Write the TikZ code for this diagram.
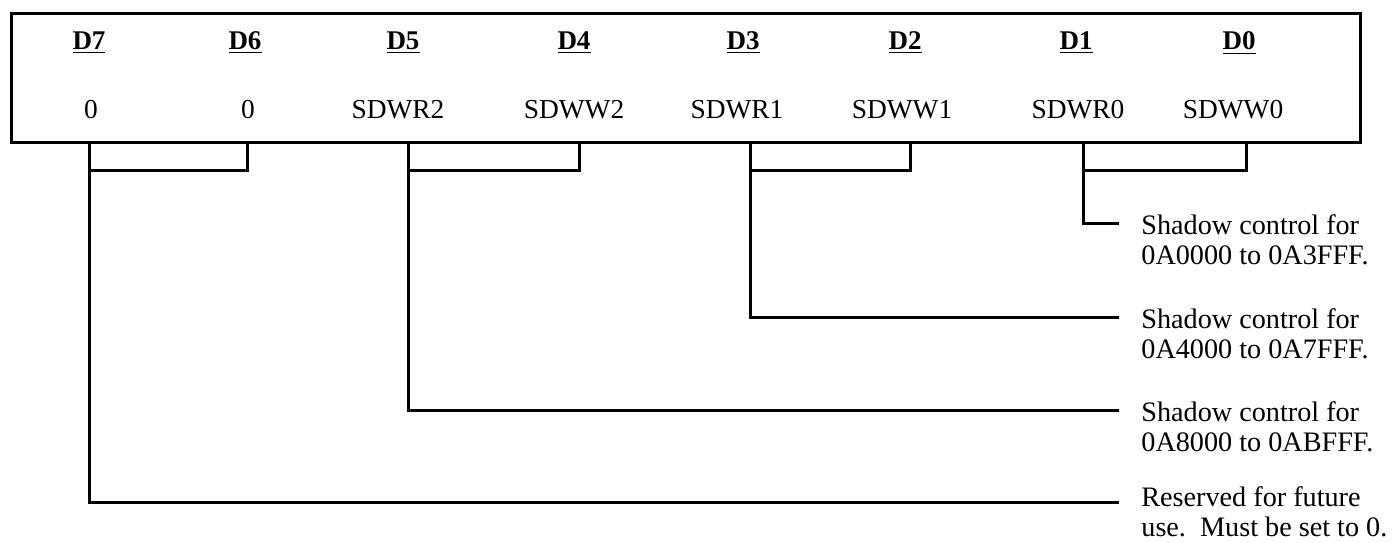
\documentclass[tikz,border=0pt]{standalone}
\usepackage{fontspec}
\setmainfont{Liberation Serif}
\tikzset{
  conn/.style={line width=1.5pt, line cap=rect, line join=miter},
  bitlbl/.style={font=\fontsize{13.5}{15}\selectfont\bfseries, inner sep=0pt},
  vallbl/.style={font=\fontsize{13.7}{15}\selectfont, inner sep=0pt},
  desc/.style={font=\fontsize{14.1}{15}\selectfont, align=left, anchor=west, inner sep=0pt},
}
\begin{document}
\begin{tikzpicture}[x=0.5pt, y=-0.5pt]
\useasboundingbox (0,0) rectangle (1394,542);
% register box
\node[draw, line width=1.5pt, minimum width=674.5pt, minimum height=64.5pt, inner sep=0pt] (reg) at (685.5,77.5) {};
% bit labels
\node[bitlbl] (d7) at (89,43) {\underline{D7}};
\node[bitlbl] (d6) at (245,43) {\underline{D6}};
\node[bitlbl] (d5) at (403,43) {\underline{D5}};
\node[bitlbl] (d4) at (574,43) {\underline{D4}};
\node[bitlbl] (d3) at (743,43) {\underline{D3}};
\node[bitlbl] (d2) at (905,43) {\underline{D2}};
\node[bitlbl] (d1) at (1076,43) {\underline{D1}};
\node[bitlbl] (d0) at (1239,43) {\underline{D0}};
% values
\node[vallbl] (v7) at (91,110) {0};
\node[vallbl] (v6) at (248,110) {0};
\node[vallbl] (v5) at (398,110) {SDWR2};
\node[vallbl] (v4) at (574,110) {SDWW2};
\node[vallbl] (v3) at (737,110) {SDWR1};
\node[vallbl] (v2) at (902,110) {SDWW1};
\node[vallbl] (v1) at (1078,110) {SDWR0};
\node[vallbl] (v0) at (1233,110) {SDWW0};
% stub coordinates on the bottom edge of the box
\coordinate (s7) at (89,142);
\coordinate (s6) at (247,142);
\coordinate (s5) at (408,142);
\coordinate (s4) at (579,142);
\coordinate (s3) at (750,142);
\coordinate (s2) at (910,142);
\coordinate (s1) at (1083,142);
\coordinate (s0) at (1246,142);
% line ends
\coordinate (e0) at (1117,223);
\coordinate (e1) at (1117,317);
\coordinate (e2) at (1117,410);
\coordinate (e3) at (1117,502);
% descriptions
\node[desc] (t0) at (1141,240) {Shadow control for\\0A0000 to 0A3FFF.};
\node[desc] (t1) at (1141,334) {Shadow control for\\0A4000 to 0A7FFF.};
\node[desc] (t2) at (1141,427) {Shadow control for\\0A8000 to 0ABFFF.};
\node[desc] (t3) at (1141,512) {Reserved for future\\use.\ \ Must be set to 0.};
% brackets
\draw[conn] (s7) -- ++(0,28) -| (s6);
\draw[conn] (s5) -- ++(0,28) -| (s4);
\draw[conn] (s3) -- ++(0,28) -| (s2);
\draw[conn] (s1) -- ++(0,28) -| (s0);
% leaders
\draw[conn] (s1) |- (e0);
\draw[conn] (s3) |- (e1);
\draw[conn] (s5) |- (e2);
\draw[conn] (s7) |- (e3);
\end{tikzpicture}
\end{document}
